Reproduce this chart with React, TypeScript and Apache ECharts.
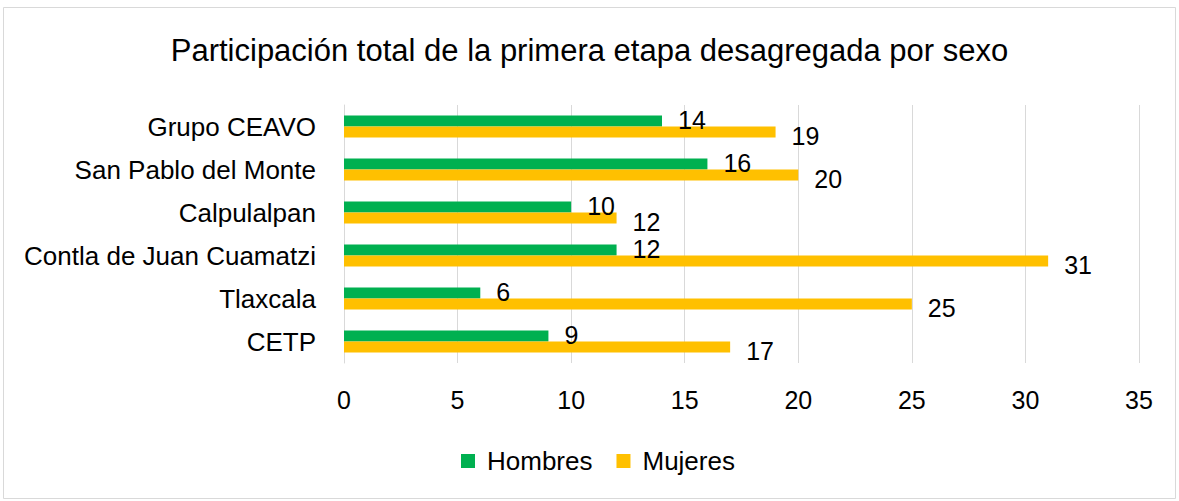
import React, { useEffect, useRef } from "react";
import * as echarts from "echarts";

const categories = ["Grupo CEAVO", "San Pablo del Monte", "Calpulalpan", "Contla de Juan Cuamatzi", "Tlaxcala", "CETP"];
const hombres = [14, 16, 10, 12, 6, 9];
const mujeres = [19, 20, 12, 31, 25, 17];
const titleText = "Participación total de la primera etapa desagregada por sexo";

const FONT = "'Liberation Sans Narrow', 'Arial Narrow', 'Liberation Sans', Arial, sans-serif";

export default function App() {
  const ref = useRef<HTMLDivElement>(null);
  useEffect(() => {
    const chart = echarts.init(ref.current!, undefined, { renderer: "svg" });
    chart.setOption({
      animation: false,
      backgroundColor: "#ffffff",
      textStyle: { fontFamily: FONT },
      title: {
        text: titleText,
        left: "center",
        top: 30,
        textStyle: { fontFamily: FONT, fontSize: 31, fontWeight: "normal", color: "#000" },
      },
      graphic: [
        {
          type: "rect",
          shape: { x: 3.5, y: 7.5, width: 1172, height: 491 },
          style: { fill: "none", stroke: "#d9d9d9", lineWidth: 1 },
          silent: true,
        },
      ],
      legend: {
        bottom: 22,
        left: 456,
        itemWidth: 14,
        itemHeight: 14,
        itemGap: 24,
        icon: "rect",
        textStyle: { fontFamily: FONT, fontSize: 26, color: "#000", padding: [0, 0, 0, 7] },
        data: ["Hombres", "Mujeres"],
      },
      grid: { left: 344, right: 40, top: 105, bottom: 138 },
      xAxis: {
        type: "value",
        min: 0,
        max: 35,
        interval: 5,
        axisLine: { show: false },
        axisTick: { show: false },
        splitLine: { lineStyle: { color: "#d9d9d9", width: 1 } },
        axisLabel: { fontFamily: FONT, fontSize: 25, color: "#000", margin: 24 },
      },
      yAxis: {
        type: "category",
        inverse: true,
        data: categories,
        axisLine: { show: true, lineStyle: { color: "#d9d9d9", width: 1 } },
        axisTick: { show: false },
        axisLabel: { fontFamily: FONT, fontSize: 26, color: "#000", margin: 28 },
      },
      series: [
        {
          name: "Hombres",
          type: "bar",
          data: hombres,
          barWidth: 11,
          barGap: "0%",
          itemStyle: { color: "#00B050" },
          label: {
            show: true,
            position: "right",
            distance: 16,
            offset: [0, -1],
            fontFamily: FONT,
            fontSize: 25,
            color: "#000",
          },
        },
        {
          name: "Mujeres",
          type: "bar",
          data: mujeres,
          barWidth: 11,
          barGap: "0%",
          itemStyle: { color: "#FFC000" },
          label: {
            show: true,
            position: "right",
            distance: 16,
            offset: [0, 4],
            fontFamily: FONT,
            fontSize: 25,
            color: "#000",
          },
        },
      ],
    });
    return () => chart.dispose();
  }, []);
  return (
    <div
      ref={ref}
      style={{ position: "fixed", left: 0, top: 0, width: 1179, height: 501 }}
    />
  );
}
